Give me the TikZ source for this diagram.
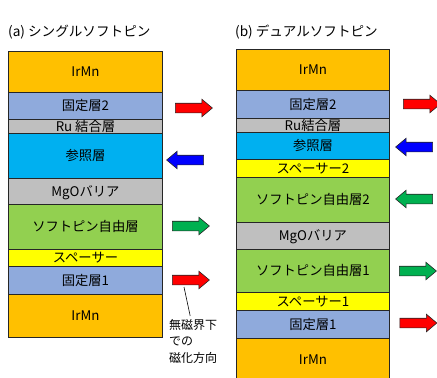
\documentclass[tikz,border=0pt]{standalone}
\usepackage{fontspec}
\setmainfont{Noto Sans CJK JP}
\usetikzlibrary{shapes.arrows}
\definecolor{cirmn}{HTML}{FFC000}
\definecolor{cpin}{HTML}{8FAADC}
\definecolor{cgry}{HTML}{BFBFBF}
\definecolor{cref}{HTML}{00B0F0}
\definecolor{cfree}{HTML}{92D050}
\definecolor{cspc}{HTML}{FFFF00}
\definecolor{ared}{HTML}{FF0000}
\definecolor{ablue}{HTML}{0000FF}
\definecolor{agreen}{HTML}{00B050}
\begin{document}
\begin{tikzpicture}[x=1pt,y=-1pt,
  layerL/.style={draw=black!85, line width=0.9pt, anchor=north west, inner sep=0pt,
    minimum width=154pt, text height=10pt, text depth=0pt, font=\fontsize{13.3}{14}\selectfont},
  layerR/.style={layerL, minimum width=153pt},
  sarrow/.style={single arrow, draw=black!85, line width=0.6pt, inner xsep=0pt, inner ysep=4.5pt,
    minimum height=37pt, single arrow head extend=4pt, single arrow tip angle=80},
  larrow/.style={sarrow, shape border rotate=180},
  ttl/.style={anchor=west, inner sep=0pt, font=\fontsize{13.6}{14}\selectfont}]
\useasboundingbox (0,0) rectangle (437,378);
% titles
\node[ttl] (ta) at (8,32) {(a) シングルソフトピン};
\node[ttl] (tb) at (235,32) {(b) デュアルソフトピン};
% left stack
\node[layerL, fill=cirmn, minimum height=41pt] (l1) at (8,51) {IrMn};
\node[layerL, fill=cpin, minimum height=27pt] (l2) at (8,92) {固定層2};
\node[layerL, fill=cgry, minimum height=14pt] (l3) at (8,119) {Ru 結合層};
\node[layerL, fill=cref, minimum height=45pt] (l4) at (8,133) {参照層};
\node[layerL, fill=cgry, minimum height=26pt] (l5) at (8,178) {MgOバリア};
\node[layerL, fill=cfree, minimum height=45pt] (l6) at (8,204) {ソフトピン自由層};
\node[layerL, fill=cspc, minimum height=17pt] (l7) at (8,249) {スペーサー};
\node[layerL, fill=cpin, minimum height=28pt] (l8) at (8,266) {固定層1};
\node[layerL, fill=cirmn, minimum height=43pt] (l9) at (8,294) {IrMn};
% right stack
\node[layerR, fill=cirmn, minimum height=41pt] (r1) at (236,49) {IrMn};
\node[layerR, fill=cpin, minimum height=28pt] (r2) at (236,90) {固定層2};
\node[layerR, fill=cgry, minimum height=14pt] (r3) at (236,118) {Ru結合層};
\node[layerR, fill=cref, minimum height=27pt] (r4) at (236,132) {参照層};
\node[layerR, fill=cspc, minimum height=18pt] (r5) at (236,159) {スペーサー2};
\node[layerR, fill=cfree, minimum height=45pt] (r6) at (236,177) {ソフトピン自由層2};
\node[layerR, fill=cgry, minimum height=27pt] (r7) at (236,222) {MgOバリア};
\node[layerR, fill=cfree, minimum height=43pt] (r8) at (236,249) {ソフトピン自由層1};
\node[layerR, fill=cspc, minimum height=18pt] (r9) at (236,292) {スペーサー1};
\node[layerR, fill=cpin, minimum height=28pt] (r10) at (236,310) {固定層1};
\node[layerR, fill=cirmn, minimum height=42pt] (r11) at (236,338) {IrMn};
% left arrows
\node[sarrow, fill=ared] (aL1) at (191,108) {};
\node[larrow, fill=ablue] (aL2) at (188,160) {};
\node[sarrow, fill=agreen] (aL3) at (188,226) {};
\node[sarrow, fill=ared] (aL4) at (188,280) {};
% right arrows
\node[sarrow, fill=ared] (aR1) at (419,104) {};
\node[larrow, fill=ablue] (aR2) at (417,147) {};
\node[larrow, fill=agreen] (aR3) at (417,199) {};
\node[sarrow, fill=agreen] (aR4) at (415,271) {};
\node[sarrow, fill=ared] (aR5) at (415.5,323) {};
% callout
\coordinate (cl) at (184,287);
\node[anchor=north west, inner sep=0pt, align=left, font=\fontsize{12}{16.5}\selectfont] (note) at (169,319) {無磁界下\\での\\磁化方向};
\draw[line width=0.6pt] (cl) -- ([xshift=-3pt,yshift=3pt]note.north);
\end{tikzpicture}
\end{document}
